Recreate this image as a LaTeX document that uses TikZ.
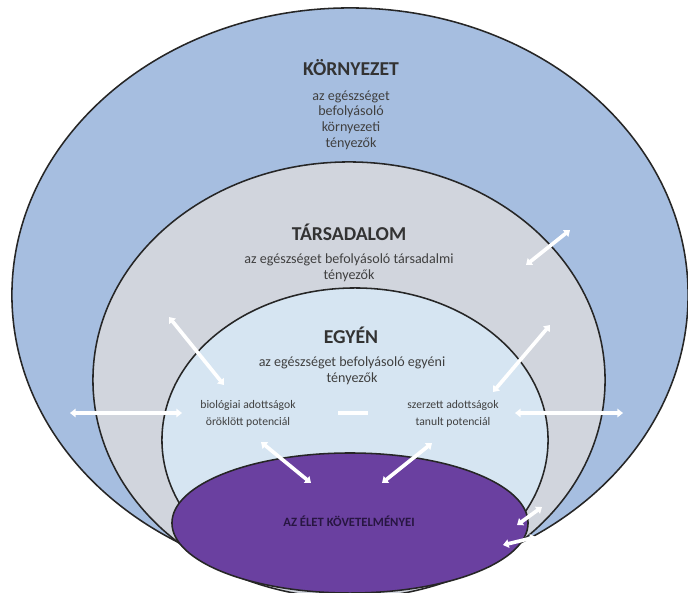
\documentclass[tikz,border=0pt]{standalone}
\usepackage{fontspec}
\setmainfont{Carlito}
\usetikzlibrary{arrows.meta}

\begin{document}
\begin{tikzpicture}[x=0.025cm,y=-0.025cm,
    ring/.style={draw=black!85,line width=1.1pt},
    title/.style={font=\bfseries\fontsize{14}{16}\selectfont,text=black!80},
    note/.style={font=\fontsize{10}{11.2}\selectfont,align=center,text=black!75},
    small/.style={font=\fontsize{8.3}{12}\selectfont,align=center,text=black!75},
    link/.style={white,line width=2.6pt,{Triangle[length=4pt,width=6pt]}-{Triangle[length=4pt,width=6pt]}}]
      \useasboundingbox (0,0) rectangle (688,592);
      % nested rings
      \fill[white] (0,0) rectangle (688,592);
      \filldraw[ring,fill={rgb,255:red,166;green,190;blue,224}] (350,295) ellipse [x radius=8.45cm,y radius=7.175cm];
      \filldraw[ring,fill={rgb,255:red,209;green,213;blue,221}] (349,380) ellipse [x radius=6.4cm,y radius=5.45cm];
      \filldraw[ring,fill={rgb,255:red,214;green,229;blue,242}] (355,440) ellipse [x radius=4.825cm,y radius=3.8cm];
      \filldraw[ring,fill={rgb,255:red,106;green,64;blue,160}] (350,523) ellipse [x radius=4.45cm,y radius=1.75cm];
      \draw
        (351,68) node[title] (kornyezet){KÖRNYEZET}
        (351,120) node[note] (kornyezetitenyezok){az egészséget\\befolyásoló\\környezeti\\tényezők}
        (349,232) node[title] (tarsadalom){TÁRSADALOM}
        (349,268) node[note] (tarsadalmitenyezok){az egészséget befolyásoló társadalmi\\tényezők}
        (351,335) node[title] (egyen){EGYÉN}
        (352,371) node[note] (egyenitenyezok){az egészséget befolyásoló egyéni\\tényezők}
        (248,414) node[small] (biologiai){biológiai adottságok\\öröklött potenciál}
        (453,414) node[small] (szerzett){szerzett adottságok\\tanult potenciál}
        (349,521) node[font=\bfseries\fontsize{9}{10}\selectfont,text={rgb,255:red,40;green,22;blue,66}] (eletkovetelmenyei){AZ ÉLET KÖVETELMÉNYEI};
      % arrow ends
      \coordinate (tarsout) at (526,265);  \coordinate (kornyin) at (570,230);
      \coordinate (biolup) at (169,317);   \coordinate (biolin) at (224,385);
      \coordinate (szerzup) at (550,325);  \coordinate (szerzin) at (493,392);
      \coordinate (bioleft) at (70,413);   \coordinate (biolright) at (182,413);
      \coordinate (midleft) at (338,413);  \coordinate (midright) at (368,413);
      \coordinate (szerzleft) at (515,413);\coordinate (szerzright) at (623,413);
      \coordinate (biollow) at (261,442);  \coordinate (eletleft) at (311,483);
      \coordinate (szerzlow) at (432,443); \coordinate (eletright) at (382,483);
      \coordinate (ringa) at (542,507);    \coordinate (eleta) at (517,525);
      \coordinate (ringb) at (536,537);    \coordinate (eletb) at (503,545);
      \begin{scope}[link]
        \draw (tarsout) to (kornyin);
        \draw (biolup) to (biolin);
        \draw (szerzup) to (szerzin);
        \draw (bioleft) to (biolright);
        \draw[-] (midleft) to (midright);
        \draw (szerzleft) to (szerzright);
        \draw (biollow) to (eletleft);
        \draw (szerzlow) to (eletright);
        \draw (ringa) to (eleta);
        \draw (ringb) to (eletb);
      \end{scope}
    \end{tikzpicture}
\end{document}
